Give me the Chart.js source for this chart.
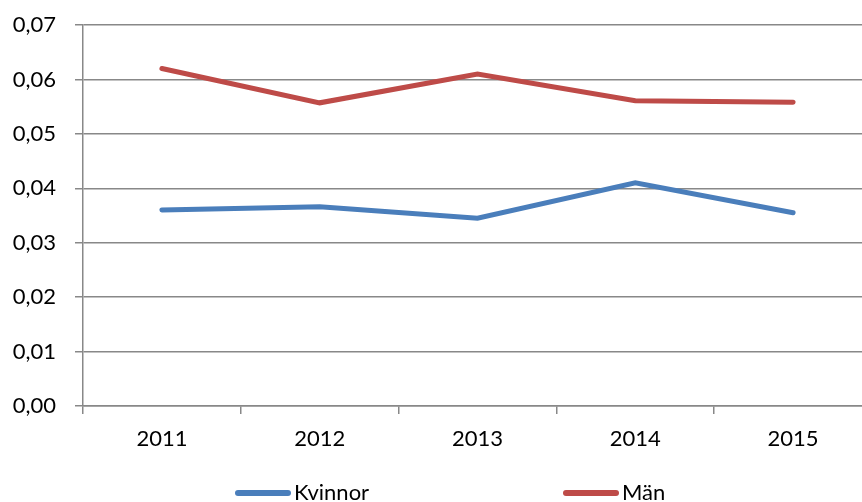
<!DOCTYPE html>
<html>
<head>
    <meta charset="utf-8">
    <title>Kvinnor och män</title>
    <script src="https://cdn.jsdelivr.net/npm/chart.js@4.4.2/dist/chart.umd.min.js"></script>
    <style>
        html, body {
            margin: 0;
            width: 862px;
            height: 502px;
            overflow: hidden;
            background: #fff;
        }
        #wrap {
            position: relative;
            width: 880px;
            height: 502px;
        }
        .legend-item {
            position: absolute;
            top: 478px;
            font-family: Lato, sans-serif;
            font-size: 22px;
            color: #000;
            white-space: nowrap;
        }
        .legend-item span {
            display: inline-block;
            width: 56px;
            height: 6px;
            border-radius: 3px;
            vertical-align: middle;
            margin-right: 3px;
            position: relative;
            top: -1px;
        }
    </style>
</head>
<body>
    <div id="wrap">
        <canvas id="chart" width="880" height="502"></canvas>
        <div class="legend-item" style="left:235px"><span style="background:#4a7ebb"></span>Kvinnor</div>
        <div class="legend-item" style="left:563px"><span style="background:#be4b48"></span>Män</div>
    </div>
    <script>
        const years = ['2011', '2012', '2013', '2014', '2015'];
        const kvinnor = [0.0360, 0.0366, 0.0345, 0.0410, 0.0355];
        const man = [0.0620, 0.0557, 0.0610, 0.0561, 0.0558];

        const gridGrey = '#888888';

        new Chart(document.getElementById('chart'), {
            type: 'line',
            data: {
                labels: years,
                datasets: [
                    {
                        label: 'Kvinnor',
                        data: kvinnor,
                        borderColor: '#4a7ebb',
                        borderWidth: 5,
                        borderCapStyle: 'round',
                        pointRadius: 0,
                        tension: 0
                    },
                    {
                        label: 'Män',
                        data: man,
                        borderColor: '#be4b48',
                        borderWidth: 5,
                        borderCapStyle: 'round',
                        pointRadius: 0,
                        tension: 0
                    }
                ]
            },
            options: {
                responsive: false,
                animation: false,
                layout: {
                    padding: { top: 25, right: 8, left: 0, bottom: 0 }
                },
                plugins: {
                    legend: { display: false },
                    tooltip: { enabled: false }
                },
                scales: {
                    x: {
                        offset: true,
                        grid: {
                            offset: true,
                            drawOnChartArea: false,
                            drawTicks: true,
                            tickLength: 8,
                            color: gridGrey,
                            lineWidth: 1.5
                        },
                        border: { color: gridGrey, width: 1.5 },
                        ticks: {
                            color: '#000',
                            padding: 12,
                            font: { family: 'Lato', size: 22 }
                        },
                        afterFit: function (scale) {
                            scale.height = 96;
                            scale.paddingLeft = 0;
                            scale.paddingRight = 0;
                        }
                    },
                    y: {
                        min: 0,
                        max: 0.07,
                        grid: {
                            color: gridGrey,
                            lineWidth: 1.5,
                            tickLength: 8
                        },
                        border: { color: gridGrey, width: 1.5 },
                        ticks: {
                            stepSize: 0.01,
                            color: '#000',
                            padding: 19,
                            font: { family: 'Lato', size: 22 },
                            callback: function (value) {
                                return value.toFixed(2).replace('.', ',');
                            }
                        },
                        afterFit: function (scale) {
                            scale.width = 83;
                            scale.paddingTop = 0;
                            scale.paddingBottom = 0;
                        }
                    }
                }
            }
        });
    </script>
</body>
</html>
